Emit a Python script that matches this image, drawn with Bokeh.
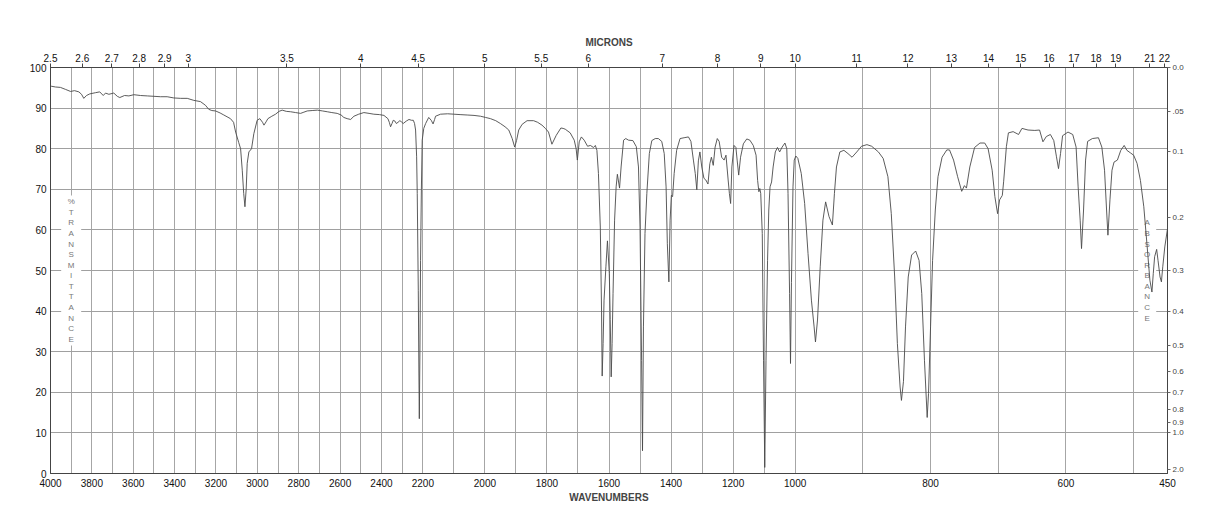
import numpy as np
from bokeh.plotting import figure
from bokeh.models import (Range1d, LinearAxis, FixedTicker, CustomJSTickFormatter, Label)
from bokeh.core.properties import value
from bokeh.embed import file_html
from bokeh.resources import INLINE

# ---------------- data ----------------
wavenumber = [
    3997, 3976, 3952, 3927, 3903, 3884, 3863, 3850, 3839, 3826, 3810, 3782, 3762, 3745, 3734, 3718,
    3694, 3677, 3665, 3642, 3621, 3597, 3565, 3532, 3500, 3468, 3436, 3404, 3371, 3339, 3307, 3275,
    3251, 3235, 3220, 3202, 3180, 3162, 3130, 3115, 3105, 3090, 3081, 3073, 3066, 3060, 3054, 3049,
    3041, 3028, 3017, 3001, 2988, 2975, 2968, 2958, 2949, 2930, 2912, 2895, 2880, 2860, 2839, 2815,
    2791, 2775, 2759, 2735, 2710, 2685, 2662, 2640, 2614, 2595, 2582, 2566, 2549, 2533, 2510, 2485,
    2460, 2437, 2410, 2388, 2369, 2362, 2356, 2349, 2343, 2335, 2328, 2320, 2311, 2303, 2295, 2280,
    2267, 2255, 2246, 2240, 2235, 2230, 2227, 2222, 2219, 2217, 2214, 2211, 2207, 2203, 2197, 2191,
    2181, 2173, 2167, 2162, 2159, 2143, 2120, 2100, 2080, 2057, 2035, 2014, 1998, 1982, 1965, 1950,
    1935, 1923, 1912, 1904, 1898, 1891, 1880, 1864, 1843, 1830, 1816, 1805, 1795, 1784, 1770, 1755,
    1748, 1741, 1725, 1712, 1706, 1702, 1696, 1689, 1680, 1669, 1660, 1650, 1644, 1639, 1634, 1628,
    1624, 1622, 1619, 1616, 1610, 1605, 1599, 1596, 1593, 1590, 1587, 1582, 1577, 1573, 1566, 1561,
    1553, 1546, 1537, 1523, 1512, 1505, 1500, 1495, 1492, 1489, 1484, 1478, 1470, 1462, 1451, 1441,
    1430, 1422, 1416, 1412, 1407, 1403, 1399, 1395, 1390, 1382, 1371, 1358, 1344, 1336, 1328, 1322,
    1317, 1312, 1307, 1301, 1294, 1288, 1281, 1275, 1270, 1264, 1258, 1251, 1245, 1237, 1229, 1223,
    1216, 1212, 1208, 1204, 1197, 1191, 1187, 1182, 1176, 1167, 1156, 1146, 1135, 1126, 1121, 1117,
    1114, 1111, 1106, 1102, 1098, 1094, 1089, 1085, 1081, 1076, 1071, 1064, 1057, 1050, 1042, 1033,
    1027, 1023, 1018, 1015, 1012, 1007, 1003, 999, 996, 991, 986, 981, 976, 972, 970, 967,
    963, 959, 955, 950, 945, 942, 939, 934, 928, 922, 916, 909, 902, 894, 887, 877,
    870, 863, 858, 853, 849, 845, 843, 840, 837, 833, 828, 822, 817, 813, 809, 805,
    803, 800, 797, 793, 789, 783, 776, 772, 766, 760, 754, 750, 747, 742, 735, 727,
    720, 715, 709, 705, 701, 698, 694, 692, 688, 685, 678, 670, 665, 656, 646, 639,
    634, 629, 623, 618, 614, 611, 608, 605, 597, 590, 585, 582, 579, 577, 574, 571,
    568, 561, 552, 547, 543, 540, 538, 535, 532, 529, 524, 519, 514, 510, 505, 500,
    495, 490, 485, 480, 476, 473, 471, 469, 466, 464, 461, 459, 457, 454, 450,
]
transmittance = [
    95.4, 95.2, 95.1, 94.6, 94.1, 94.3, 94.0, 93.4, 92.4, 93.1, 93.5, 93.8, 94.0, 93.1, 93.7, 93.4,
    93.7, 92.9, 92.6, 93.1, 93.0, 93.3, 93.1, 93.0, 92.9, 92.8, 92.8, 92.5, 92.4, 92.4, 91.9, 91.6,
    90.7, 89.7, 89.4, 89.3, 88.8, 88.3, 87.4, 86.5, 84.1, 81.5, 80.0, 74.7, 69.0, 65.7, 70.0, 76.4,
    79.2, 80.0, 83.7, 87.0, 87.4, 86.5, 85.8, 86.6, 87.4, 88.0, 88.5, 89.2, 89.5, 89.2, 89.1, 88.9,
    88.7, 89.0, 89.3, 89.4, 89.5, 89.3, 89.1, 88.9, 88.7, 88.3, 87.7, 87.4, 87.2, 88.0, 88.5, 88.9,
    88.7, 88.5, 88.4, 88.2, 87.4, 86.5, 85.4, 86.2, 87.0, 86.8, 86.2, 86.5, 86.9, 86.6, 86.2, 86.8,
    87.2, 87.0, 87.0, 86.2, 84.6, 78.0, 69.0, 45.0, 25.0, 13.5, 30.0, 52.5, 70.0, 82.1, 85.0, 86.2,
    87.7, 87.0, 86.1, 87.2, 88.0, 88.5, 88.6, 88.5, 88.4, 88.3, 88.2, 88.0, 87.7, 87.4, 86.9, 86.2,
    85.4, 84.6, 82.5, 80.4, 82.0, 84.6, 86.0, 86.9, 86.9, 86.5, 85.8, 85.0, 84.1, 81.1, 83.3, 85.1,
    85.0, 84.8, 83.9, 82.1, 80.0, 77.2, 81.7, 82.9, 82.1, 80.6, 80.8, 80.3, 80.8, 79.6, 73.9, 60.7,
    40.0, 24.0, 32.0, 42.7, 50.9, 57.3, 49.3, 38.0, 23.8, 32.0, 44.3, 62.4, 70.6, 73.7, 70.3, 75.5,
    82.1, 82.5, 82.1, 82.0, 80.5, 75.5, 60.7, 27.9, 5.6, 36.1, 59.1, 69.0, 78.8, 82.0, 82.5, 82.5,
    81.8, 78.8, 70.6, 56.6, 47.2, 62.4, 68.5, 68.2, 73.9, 79.6, 82.5, 82.7, 82.9, 81.8, 77.2, 73.9,
    69.9, 77.0, 79.2, 75.5, 72.7, 72.3, 71.3, 76.3, 77.9, 75.9, 80.4, 82.5, 81.8, 77.9, 77.2, 78.4,
    72.3, 69.0, 66.5, 75.5, 80.8, 80.3, 77.2, 73.5, 77.9, 81.2, 82.4, 82.1, 80.8, 78.4, 72.2, 69.4,
    70.2, 69.0, 59.1, 27.9, 1.5, 27.9, 52.5, 64.9, 70.6, 71.8, 75.5, 79.2, 80.3, 79.2, 80.4, 81.4,
    80.0, 69.0, 44.3, 27.1, 47.0, 70.6, 77.2, 78.2, 77.6, 73.9, 66.5, 54.2, 42.7, 36.1, 32.4, 37.8,
    50.9, 62.4, 66.9, 63.3, 61.2, 69.0, 75.5, 79.2, 79.6, 78.8, 77.9, 79.2, 80.6, 81.0, 80.6, 79.2,
    77.6, 73.1, 64.0, 48.4, 32.0, 21.3, 18.0, 22.7, 36.1, 48.4, 53.8, 54.8, 52.5, 44.3, 27.9, 13.8,
    19.7, 36.1, 52.5, 64.9, 73.1, 77.9, 79.7, 79.7, 77.2, 73.1, 69.5, 70.9, 70.3, 75.5, 80.3, 81.4,
    81.4, 80.0, 74.7, 68.2, 64.0, 67.4, 68.5, 72.0, 80.5, 83.9, 84.2, 83.5, 85.0, 84.6, 84.5, 84.6,
    81.7, 83.0, 83.5, 82.0, 78.0, 75.1, 78.8, 83.2, 84.1, 83.5, 80.4, 70.6, 62.4, 55.4, 64.9, 77.2,
    81.8, 82.5, 82.7, 80.4, 74.7, 64.9, 58.7, 67.4, 74.7, 76.7, 77.2, 79.6, 80.8, 79.6, 79.0, 78.4,
    76.4, 72.2, 65.7, 55.8, 47.6, 44.7, 49.3, 53.4, 55.2, 52.5, 48.4, 47.2, 50.9, 55.8, 60.3,
]

bottom_ticks = [4000, 3800, 3600, 3400, 3200, 3000, 2800, 2600, 2400, 2200, 2000, 1800, 1600,
                1400, 1200, 1000, 800, 600, 450]
micron_ticks = [2.5, 2.6, 2.7, 2.8, 2.9, 3, 3.5, 4, 4.5, 5, 5.5, 6, 7, 8, 9, 10, 11, 12, 13,
                14, 15, 16, 17, 18, 19, 21, 22]
micron_labels = ["2.5", "2.6", "2.7", "2.8", "2.9", "3", "3.5", "4", "4.5", "5", "5.5", "6", "7",
                 "8", "9", "10", "11", "12", "13", "14", "15", "16", "17", "18", "19", "21", "22"]
absorbance_ticks = [0.0, 0.05, 0.1, 0.2, 0.3, 0.4, 0.5, 0.6, 0.7, 0.8, 0.9, 1.0, 2.0]
absorbance_labels = ["0.0", ".05", "0.1", "0.2", "0.3", "0.4", "0.5", "0.6", "0.7", "0.8", "0.9",
                     "1.0", "2.0"]
transmittance_ticks = list(range(0, 101, 10))

# piecewise chart scale: 4000-2200, 2200-1000, 1000-450 each take one third
SCALE_WN = [450, 1000, 2200, 4000]
SCALE_U = [3, 2, 1, 0]


def u(wn):
    return np.interp(np.asarray(wn, dtype=float), SCALE_WN, SCALE_U)


FONT = "Liberation Sans"

p = figure(width=1218, height=528, output_backend="svg", toolbar_location=None,
           x_range=Range1d(0, 3), y_range=Range1d(0, 100),
           min_border_left=50, min_border_right=51, min_border_top=67, min_border_bottom=55,
           background_fill_color="white", border_fill_color="white")
p.outline_line_color = "#444444"

JS = """
let best = 0, bd = 1e12;
for (let i = 0; i < tv.length; i++) { const d = Math.abs(tv[i] - tick); if (d < bd) { bd = d; best = i; } }
return tl[best];
"""

# bottom axis: wavenumbers
bx = p.xaxis[0]
bt = [float(v) for v in u(bottom_ticks)]
bx.ticker = FixedTicker(ticks=bt)
bx.formatter = CustomJSTickFormatter(args=dict(tv=bt, tl=[str(v) for v in bottom_ticks]), code=JS)
bx.major_tick_out = 0
bx.major_tick_in = 0
bx.minor_tick_out = 0
bx.minor_tick_in = 0
bx.major_label_standoff = 5
bx.major_label_text_font = FONT
bx.major_label_text_font_size = "10px"
bx.major_label_text_color = "#111111"
bx.axis_label = "WAVENUMBERS"
bx.axis_label_text_font = FONT
bx.axis_label_text_font_style = "bold"
bx.axis_label_text_font_size = "10px"
bx.axis_label_standoff = 2
bx.axis_line_color = "#444444"

# left axis: % transmittance
ly = p.yaxis[0]
ly.ticker = FixedTicker(ticks=transmittance_ticks)
ly.major_tick_out = 0
ly.major_tick_in = 0
ly.minor_tick_out = 0
ly.minor_tick_in = 0
ly.major_label_standoff = 4
ly.major_label_text_font = FONT
ly.major_label_text_font_size = "10px"
ly.major_label_text_color = "#111111"
ly.axis_line_color = "#444444"

# top axis: microns
mt = [float(v) for v in u([10000.0 / m for m in micron_ticks])]
top = LinearAxis(ticker=FixedTicker(ticks=mt),
                 formatter=CustomJSTickFormatter(args=dict(tv=mt, tl=micron_labels), code=JS))
top.major_tick_out = 4
top.major_tick_in = 0
top.minor_tick_out = 0
top.minor_tick_in = 0
top.major_label_standoff = 2
top.major_label_text_font = FONT
top.major_label_text_font_size = "10px"
top.major_label_text_color = "#111111"
top.axis_label = "MICRONS"
top.axis_label_text_font = FONT
top.axis_label_text_font_style = "bold"
top.axis_label_text_font_size = "10px"
top.axis_label_standoff = 3
top.axis_line_color = "#444444"
top.major_tick_line_color = "#444444"
p.add_layout(top, "above")

# right axis: absorbance
at = [float(100.0 * 10 ** (-a)) for a in absorbance_ticks]
right = LinearAxis(ticker=FixedTicker(ticks=at),
                   formatter=CustomJSTickFormatter(args=dict(tv=at, tl=absorbance_labels), code=JS))
right.major_tick_out = 3
right.major_tick_in = 0
right.minor_tick_out = 0
right.minor_tick_in = 0
right.major_label_standoff = 2
right.major_label_text_font = FONT
right.major_label_text_font_size = "8px"
right.major_label_text_color = "#444444"
right.axis_line_color = "#444444"
right.major_tick_line_color = "#666666"
p.add_layout(right, "right")

# grids
p.xgrid.ticker = FixedTicker(ticks=[float(v) for v in u(list(range(4000, 499, -100)))])
p.ygrid.ticker = FixedTicker(ticks=transmittance_ticks)
p.xgrid.grid_line_color = "#a6a6a6"
p.ygrid.grid_line_color = "#a0a0a0"
p.xgrid.grid_line_width = 1
p.ygrid.grid_line_width = 1

# vertical lettering with white backing
LEFT_WORD = list("%TRANSMITTANCE")
RIGHT_WORD = list("ABSORBANCE")
LEFT_WN, RIGHT_WN, WORD_CENTER, LETTER_STEP = 3900, 480, 50.0, 2.6


def letters_y(n):
    return [WORD_CENTER + ((n - 1) / 2.0 - i) * LETTER_STEP for i in range(n)]


p.rect(x=[float(u(LEFT_WN))], y=[WORD_CENTER], width=20, height=150,
       width_units="screen", height_units="screen", fill_color="white", line_color=None)
p.rect(x=[float(u(RIGHT_WN))], y=[WORD_CENTER], width=18, height=106,
       width_units="screen", height_units="screen", fill_color="white", line_color=None)

p.text(x=[float(u(LEFT_WN))] * len(LEFT_WORD), y=letters_y(len(LEFT_WORD)), text=LEFT_WORD,
       text_font=value(FONT), text_font_size="8px", text_color="#777777",
       text_align="center", text_baseline="middle")
p.text(x=[float(u(RIGHT_WN))] * len(RIGHT_WORD), y=letters_y(len(RIGHT_WORD)), text=RIGHT_WORD,
       text_font=value(FONT), text_font_size="8px", text_color="#777777",
       text_align="center", text_baseline="middle")

# spectrum
p.line(x=u(wavenumber), y=transmittance, line_color="#4a4a4a", line_width=0.9)

# instrument label
p.add_layout(Label(x=3, y=100, text="NICOLET 20SX FT-IR", text_font=FONT,
                   text_font_size="10px", text_font_style="bold", text_color="#111111",
                   text_align="right", text_baseline="middle", x_offset=3, y_offset=23))

open("out.html", "w").write(file_html(p, INLINE))
